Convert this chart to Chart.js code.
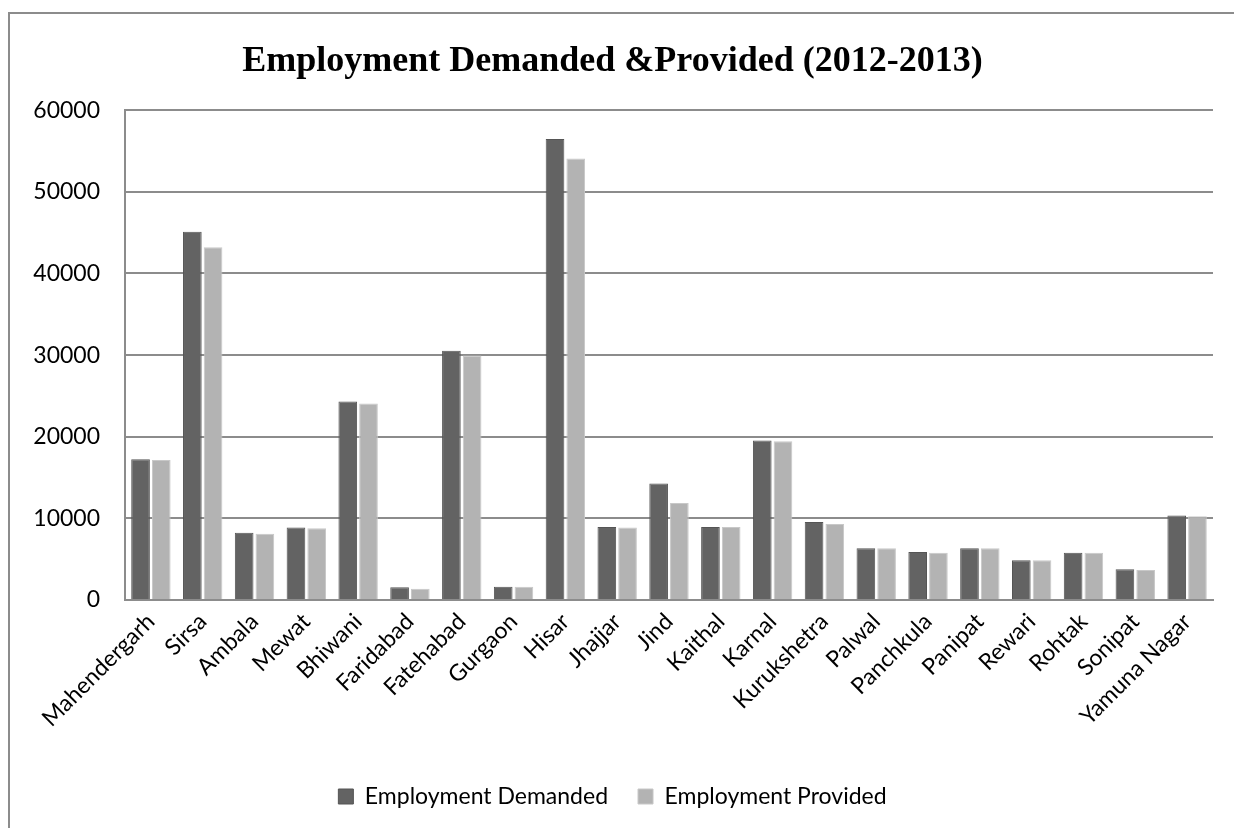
<!DOCTYPE html>
<html>
<head>
<meta charset="utf-8">
<script src="https://cdn.jsdelivr.net/npm/chart.js@4.4.1/dist/chart.umd.min.js"></script>
<style>
  html, body { margin: 0; padding: 0; background: #fff; }
  #wrap { position: relative; width: 1234px; height: 828px; overflow: hidden; }
  #frame {
    position: absolute; left: 8px; top: 12px; width: 1300px; height: 900px;
    border: 2px solid #8c8c8c; box-sizing: border-box;
  }
  canvas { position: absolute; left: 0; top: 0; }
</style>
</head>
<body>
<div id="wrap">
  <div id="frame"></div>
  <canvas id="empChart" width="1234" height="828"></canvas>
</div>
<script>
const districts = ['Mahendergarh', 'Sirsa', 'Ambala', 'Mewat', 'Bhiwani', 'Faridabad', 'Fatehabad',
  'Gurgaon', 'Hisar', 'Jhajjar', 'Jind', 'Kaithal', 'Karnal', 'Kurukshetra', 'Palwal',
  'Panchkula', 'Panipat', 'Rewari', 'Rohtak', 'Sonipat', 'Yamuna Nagar'];

const demanded = [17250, 45120, 8250, 8870, 24320, 1550, 30530, 1630, 56480, 8950, 14260,
  8950, 19530, 9560, 6330, 5880, 6330, 4860, 5800, 3760, 10340];

const provided = [17160, 43200, 8130, 8790, 24070, 1390, 29950, 1630, 54070, 8870, 11890,
  8950, 19450, 9320, 6330, 5800, 6330, 4860, 5800, 3680, 10260];

const yTicks = [0, 10000, 20000, 30000, 40000, 50000, 60000];

const tickFont = { family: 'Lato, "Open Sans", sans-serif', size: 23 };

const ctx = document.getElementById('empChart').getContext('2d');
new Chart(ctx, {
  type: 'bar',
  data: {
    labels: districts,
    datasets: [{
      label: 'Employment Demanded',
      backgroundColor: '#636363',
      borderColor: '#555555',
      borderWidth: 1,
      data: demanded
    },
    {
      label: 'Employment Provided',
      backgroundColor: '#b3b3b3',
      borderColor: '#c8c8c8',
      borderWidth: 1,
      data: provided
    }]
  },
  options: {
    responsive: false,
    animation: false,
    layout: { padding: { left: 12, right: 21, top: 0, bottom: 10 } },
    plugins: {
      title: {
        display: true,
        text: 'Employment Demanded &Provided (2012-2013)',
        color: '#000',
        font: { family: '"Liberation Serif", "Times New Roman", serif', size: 36, weight: 'bold' },
        padding: { top: 40, bottom: 27 }
      },
      legend: {
        position: 'bottom',
        labels: {
          color: '#000',
          font: tickFont,
          boxWidth: 15,
          boxHeight: 15,
          padding: 30
        }
      },
      tooltip: { enabled: false }
    },
    scales: {
      x: {
        offset: true,
        categoryPercentage: 0.76,
        barPercentage: 0.88,
        afterFit: scale => { scale.height = 155; },
        grid: { display: false, drawTicks: false },
        border: { color: '#8c8c8c', width: 2 },
        ticks: {
          color: '#000',
          font: tickFont,
          minRotation: 45,
          maxRotation: 45,
          padding: 8,
          autoSkip: false
        }
      },
      y: {
        min: 0,
        max: 60000,
        afterBuildTicks: axis => { axis.ticks = yTicks.map(v => ({ value: v })); },
        afterFit: scale => { scale.width = 113; },
        grid: { color: '#8c8c8c', lineWidth: 2, drawTicks: false },
        border: { color: '#8c8c8c', width: 2 },
        ticks: {
          color: '#000',
          font: tickFont,
          padding: 25,
          callback: v => String(v)
        }
      }
    }
  }
});
</script>
</body>
</html>
